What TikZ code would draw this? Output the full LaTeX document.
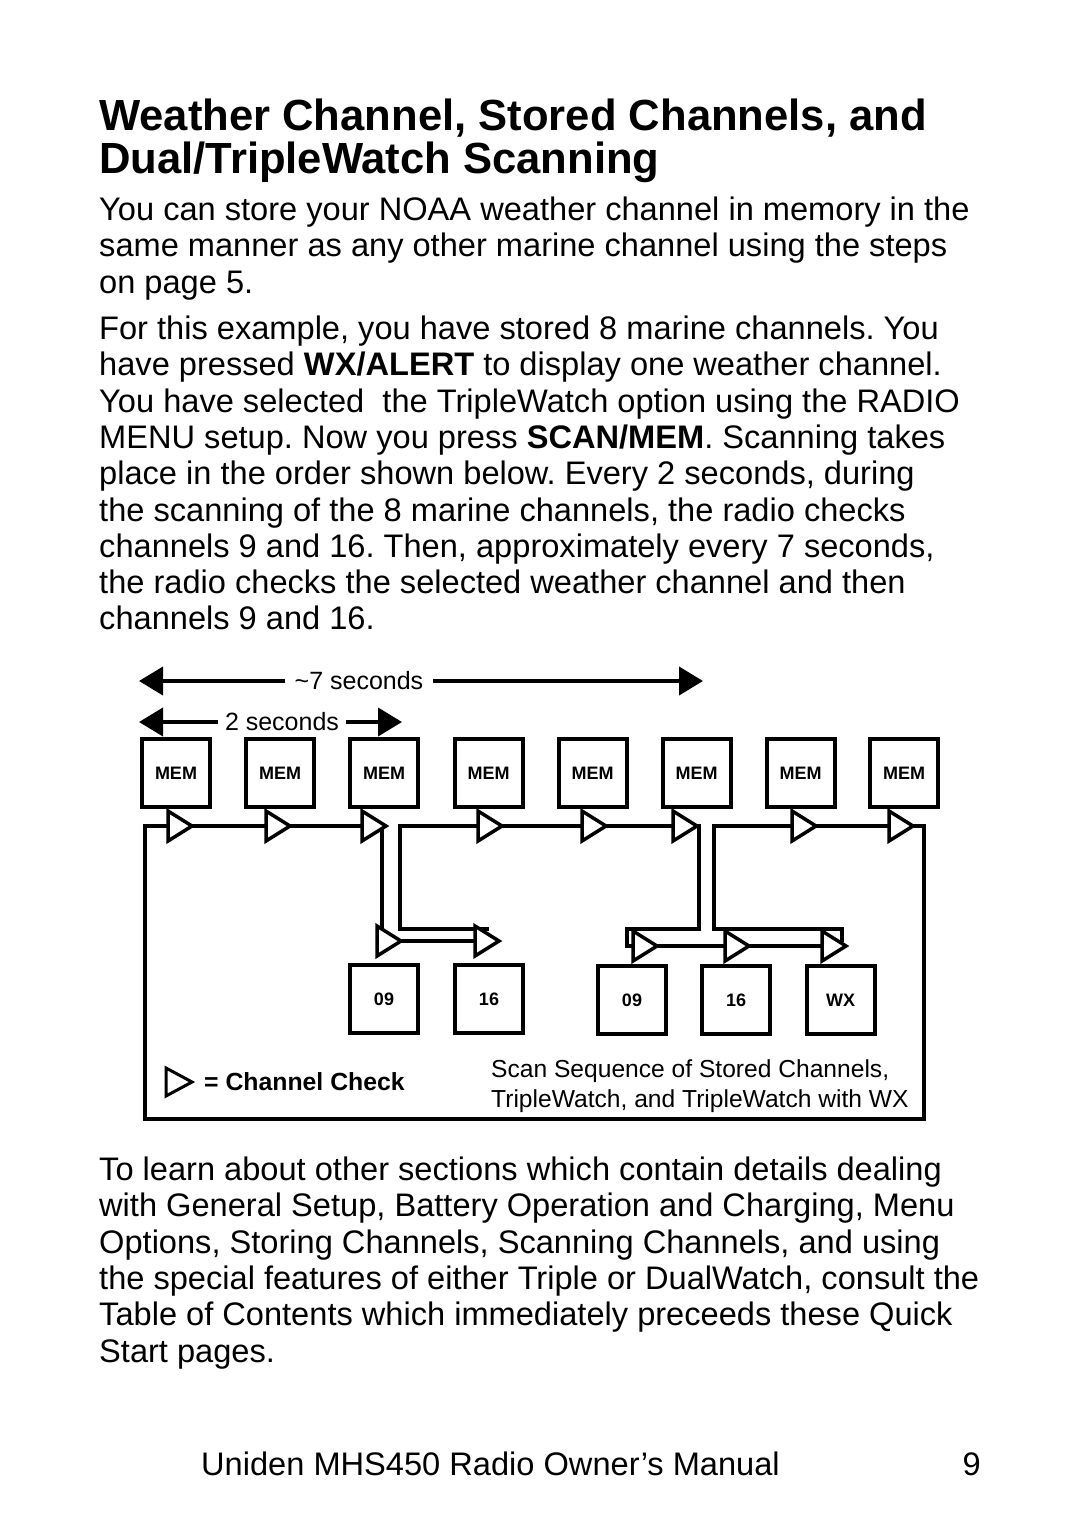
\documentclass[tikz,border=0pt]{standalone}
\usepackage{fontspec}
\setmainfont{Liberation Sans}
\usetikzlibrary{arrows.meta}
\frenchspacing
\begin{document}
\begin{tikzpicture}[x=1pt,y=-1pt,
  body/.style={anchor=base west, inner sep=0pt, font=\fontsize{32.6}{38}\selectfont\frenchspacing},
  ttl/.style={anchor=base west, inner sep=0pt, font=\fontsize{43.6}{48}\selectfont\bfseries},
  wire/.style={line width=4pt, line join=miter, line cap=rect},
  box/.style={draw, line width=4pt, minimum size=68pt, inner sep=0pt, fill=white, font=\fontsize{18}{20}\selectfont\bfseries},
  chk/.pic={\draw[line width=3.5pt, fill=white, line join=miter] (0,-15) -- (24,0) -- (0,15) -- cycle;},
  dimline/.style={line width=4pt, -{Triangle[length=24pt,width=28pt]}},
  dimtxt/.style={inner xsep=10pt, inner ysep=0pt, font=\fontsize{25}{28}\selectfont},
  small/.style={anchor=base west, inner sep=0pt, font=\fontsize{24.6}{28}\selectfont},
]
\useasboundingbox[fill=white] (0,0) rectangle (1080,1522);

% ---------- title ----------
\node[ttl] (ti1) at (99,131) {Weather Channel, Stored Channels, and};
\node[ttl] (ti2) at (99,174) {Dual/TripleWatch Scanning};

% ---------- paragraph 1 ----------
\node[body] (a1) at (99,220.5) {You can store your NOAA weather channel in memory in the};
\node[body] (a2) at (99,256.8) {same manner as any other marine channel using the steps};
\node[body] (a3) at (99,293.2) {on page 5.};

% ---------- paragraph 2 ----------
\node[body] (b1) at (99,339.5) {For this example, you have stored 8 marine channels. You};
\node[body] (b2) at (99,375.8) {have pressed \textbf{WX/ALERT} to display one weather channel.};
\node[body] (b3) at (99,412.1) {You have selected\ \ the TripleWatch option using the RADIO};
\node[body] (b4) at (99,448.4) {MENU setup. Now you press \textbf{SCAN/MEM}. Scanning takes};
\node[body] (b5) at (99,484.7) {place in the order shown below. Every 2 seconds, during};
\node[body] (b6) at (99,521.0) {the scanning of the 8 marine channels, the radio checks};
\node[body] (b7) at (99,557.3) {channels 9 and 16. Then, approximately every 7 seconds,};
\node[body] (b8) at (99,593.6) {the radio checks the selected weather channel and then};
\node[body] (b9) at (99,629.9) {channels 9 and 16.};

% ---------- dimension arrows ----------
\node[dimtxt] (t7) at (359,681) {\textasciitilde 7 seconds};
\coordinate (t7l) at (139,681);
\coordinate (t7r) at (703,681);
\draw[dimline] (t7.west) -- (t7l);
\draw[dimline] (t7.east) -- (t7r);
\node[dimtxt, inner xsep=7pt] (t2) at (282,722) {2 seconds};
\coordinate (t2l) at (139,722);
\coordinate (t2r) at (402,722);
\draw[dimline] (t2.west) -- (t2l);
\draw[dimline] (t2.east) -- (t2r);

% ---------- wires ----------
\coordinate (fbl) at (145,1119);
\coordinate (ftl) at (145,826);
\coordinate (d1t) at (382,826);
\coordinate (d1b) at (382,941);
\coordinate (l1e) at (487,941);
\draw[wire] (fbl) -- (ftl) -- (d1t) -- (d1b) -- (l1e);

\coordinate (b0) at (487,929);
\coordinate (b1c) at (400,929);
\coordinate (b2c) at (400,826);
\coordinate (b3c) at (699,826);
\coordinate (b4c) at (699,929);
\coordinate (b5c) at (627,929);
\coordinate (b6c) at (627,946);
\coordinate (b7c) at (838,946);
\draw[wire] (b0) -- (b1c) -- (b2c) -- (b3c) -- (b4c) -- (b5c) -- (b6c) -- (b7c);

\coordinate (c0) at (842,940);
\coordinate (c1) at (842,929);
\coordinate (c2) at (714,929);
\coordinate (c3) at (714,826);
\coordinate (c4) at (924,826);
\coordinate (c5) at (924,1119);
\draw[wire] (c0) -- (c1) -- (c2) -- (c3) -- (c4) -- (c5) -- (fbl);

% ---------- boxes ----------
\foreach \i/\x in {1/176,2/280,3/384,4/488.5,5/592.5,6/696.5,7/800.5,8/904}
  \node[box] (m\i) at (\x,773) {MEM};
\node[box] (c09a) at (384,999) {09};
\node[box] (c16a) at (489,999) {16};
\node[box] (c09b) at (632,1000) {09};
\node[box] (c16b) at (736,1000) {16};
\node[box] (cwx) at (840.5,1000) {WX};

% ---------- channel checks ----------
\foreach \x in {168,266,362,478,582,673,792,889}
  \pic at (\x,826) {chk};
\pic at (377,941) {chk};
\pic at (475,941) {chk};
\pic at (633,946) {chk};
\pic at (725,946) {chk};
\pic at (822,946) {chk};

% ---------- legend ----------
\draw[line width=3pt, line join=miter] (166,1068) -- (192,1082) -- (166,1096) -- cycle;
\node[anchor=west, inner sep=0pt, font=\fontsize{24.8}{28}\selectfont\bfseries] (lg) at (204,1082) {= Channel Check};
\node[small] (s1) at (491,1077) {Scan Sequence of Stored Channels,};
\node[small] (s2) at (491,1107) {TripleWatch, and TripleWatch with WX};

% ---------- paragraph 3 ----------
\node[body] (c1t) at (99,1180.5) {To learn about other sections which contain details dealing};
\node[body] (c2t) at (99,1216.8) {with General Setup, Battery Operation and Charging, Menu};
\node[body] (c3t) at (99,1253.1) {Options, Storing Channels, Scanning Channels, and using};
\node[body] (c4t) at (99,1289.4) {the special features of either Triple or DualWatch, consult the};
\node[body] (c5t) at (99,1325.7) {Table of Contents which immediately preceeds these Quick};
\node[body] (c6t) at (99,1362.0) {Start pages.};

% ---------- footer ----------
\node[body] (ft) at (201,1475.5) {Uniden MHS450 Radio Owner’s Manual};
\node[body, anchor=base east] (pg) at (981,1475.5) {9};
\end{tikzpicture}
\end{document}
